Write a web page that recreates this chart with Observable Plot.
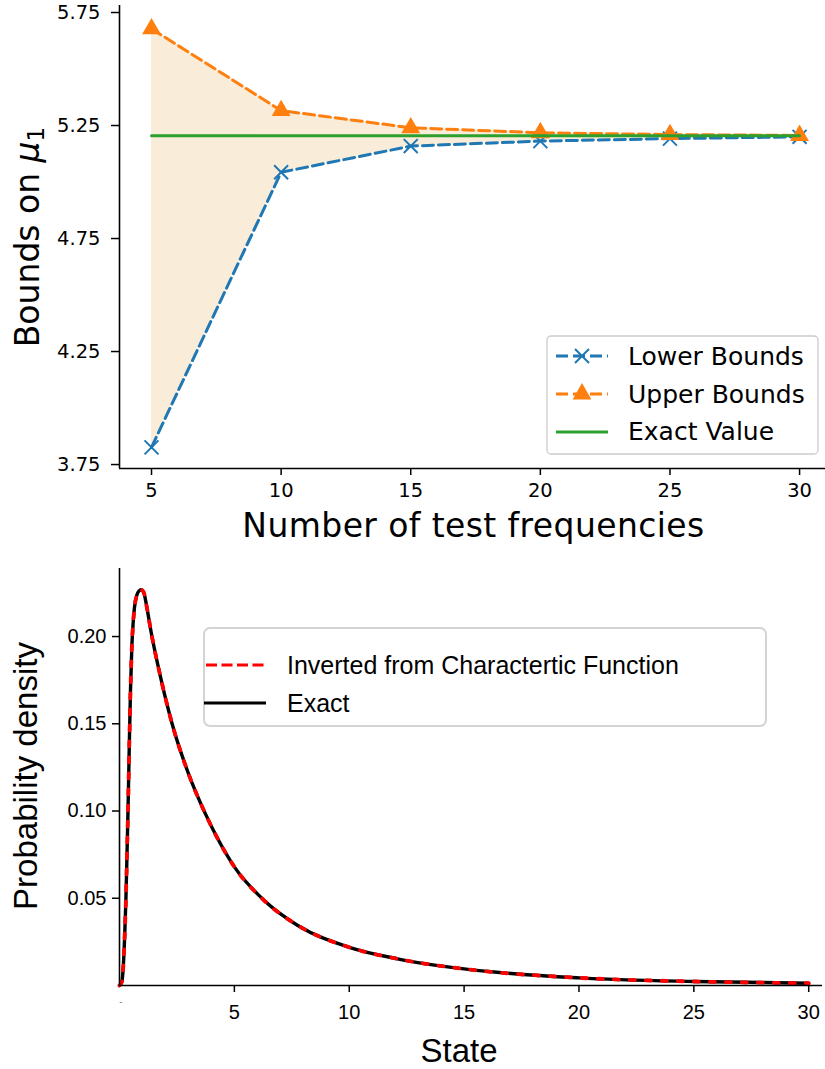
<!DOCTYPE html>
<html>
<head>
<meta charset="utf-8">
<script src="https://cdn.jsdelivr.net/npm/d3@7"></script>
<script src="https://cdn.jsdelivr.net/npm/@observablehq/plot@0.6"></script>
<style>
  html, body { margin: 0; padding: 0; background: #fff; }
  #chart svg { display: block; }
</style>
</head>
<body>
<div id="chart"></div>
<script>
// Bounds on the first moment versus number of test frequencies
const nFreq = [5, 10, 15, 20, 25, 30];
const lowerBounds = [3.826, 5.043, 5.159, 5.181, 5.192, 5.200];
const upperBounds = [5.678, 5.316, 5.240, 5.218, 5.210, 5.206];
const exactValue = 5.205;
const boundTicks = [3.75, 4.25, 4.75, 5.25, 5.75];
const freqTicks = [5, 10, 15, 20, 25, 30];

// Probability density of the state: exact and inverted from the characteristic function
const state = [0, 0.1, 0.17, 0.23, 0.28, 0.33, 0.37, 0.43, 0.48, 0.54, 0.6, 0.65, 0.75, 0.85, 0.94,
  1.05, 1.2, 1.37, 1.8, 2.29, 3.0, 3.7, 4.3, 5.0, 6.3, 7.76, 10, 12.1, 15, 20, 25, 30];
const density = [0, 0.002, 0.012, 0.03, 0.05, 0.077, 0.10, 0.14, 0.17, 0.195, 0.209, 0.2165, 0.2235, 0.2262, 0.2268,
  0.2255, 0.216, 0.203, 0.176, 0.15, 0.1215, 0.0995, 0.0835, 0.068, 0.0487, 0.0344, 0.0219, 0.0153, 0.0095, 0.0044, 0.0023, 0.0013];
const densityTicks = [0.05, 0.10, 0.15, 0.20];
const stateTicks = [5, 10, 15, 20, 25, 30];

const W = 825;
const blue = "#1f77b4", orange = "#ff7f0e", green = "#2ca02c";

const boundsRows = nFreq.map((n, i) => ({n, lower: lowerBounds[i], upper: upperBounds[i], exact: exactValue}));
const xMin1 = 3.765, yMin1 = 3.7325;
const tickFont1 = {fontSize: 19.5, fontFamily: "DejaVu Sans", fill: "black"};

const boundsChart = Plot.plot({
  width: W, height: 545,
  marginLeft: 119, marginRight: 0, marginTop: 5, marginBottom: 77,
  style: {fontFamily: "DejaVu Sans", color: "black", background: "white", overflow: "visible"},
  x: {domain: [xMin1, 31.0]},
  y: {domain: [yMin1, 5.781]},
  marks: [
    Plot.areaY(boundsRows, {x: "n", y1: "lower", y2: "upper", fill: "#f9ecd8"}),
    Plot.line(boundsRows, {x: "n", y: "lower", stroke: blue, strokeWidth: 3, strokeDasharray: "11,5"}),
    Plot.dot(boundsRows, {x: "n", y: "lower", symbol: "times", r: 6.4, stroke: blue, strokeWidth: 2, fill: "none"}),
    Plot.line(boundsRows, {x: "n", y: "upper", stroke: orange, strokeWidth: 3, strokeDasharray: "11,5"}),
    Plot.dot(boundsRows, {x: "n", y: "upper", symbol: "triangle", r: 7, fill: orange, stroke: "none"}),
    Plot.line(boundsRows, {x: "n", y: "exact", stroke: green, strokeWidth: 3}),
    Plot.axisY(boundTicks, {tickFormat: d3.format(".2f"), tickSize: 8, tickPadding: 11, strokeWidth: 1.5, label: null, ...tickFont1}),
    Plot.axisX(freqTicks, {tickSize: 7, tickPadding: 8, strokeWidth: 1.5, label: null, ...tickFont1}),
    Plot.ruleX([xMin1], {strokeWidth: 1.6}),
    Plot.ruleY([yMin1], {strokeWidth: 1.6})
  ]
});

// Axis titles and legend for the bounds panel
{
  const svg = d3.select(boundsChart);
  const yl = svg.append("text")
    .attr("transform", "translate(38.5,237) rotate(-90)")
    .attr("text-anchor", "middle")
    .attr("font-family", "DejaVu Sans")
    .attr("font-size", 33)
    .attr("fill", "black");
  yl.append("tspan").text("Bounds on ");
  yl.append("tspan").attr("font-style", "italic").text("μ");
  yl.append("tspan").attr("font-size", 23).attr("dy", 5).text("1");

  svg.append("text")
    .attr("x", 473.5).attr("y", 537)
    .attr("text-anchor", "middle")
    .attr("font-family", "DejaVu Sans")
    .attr("font-size", 33)
    .attr("letter-spacing", 0.4)
    .attr("fill", "black")
    .text("Number of test frequencies");

  const lg = svg.append("g").attr("font-family", "DejaVu Sans").attr("font-size", 25)
    .attr("fill", "black").attr("text-anchor", "start");
  lg.append("rect").attr("x", 547).attr("y", 336).attr("width", 271).attr("height", 118).attr("rx", 4)
    .attr("fill", "white").attr("fill-opacity", 0.8).attr("stroke", "#cccccc").attr("stroke-width", 1.3);
  const rows = [
    {label: "Lower Bounds", color: blue, dash: "12,5", symbol: d3.symbolTimes, r: 6.4, y: 356, base: 365},
    {label: "Upper Bounds", color: orange, dash: "12,5", symbol: d3.symbolTriangle, r: 7, y: 394, base: 403},
    {label: "Exact Value", color: green, dash: null, symbol: null, r: 0, y: 432, base: 440}
  ];
  for (const row of rows) {
    const ln = lg.append("line").attr("x1", 556).attr("x2", 608).attr("y1", row.y).attr("y2", row.y)
      .attr("stroke", row.color).attr("stroke-width", 3);
    if (row.dash) ln.attr("stroke-dasharray", row.dash);
    if (row.symbol) {
      const p = lg.append("path")
        .attr("transform", `translate(582,${row.y})`)
        .attr("d", d3.symbol().type(row.symbol).size(Math.PI * row.r * row.r)());
      if (row.symbol === d3.symbolTimes) p.attr("fill", "none").attr("stroke", row.color).attr("stroke-width", 2);
      else p.attr("fill", row.color);
    }
    lg.append("text").attr("x", 628).attr("y", row.base).text(row.label);
  }
}

const densityRows = state.map((s, i) => ({s, d: density[i]}));
const tickFont2 = {fontSize: 20, fontFamily: "Liberation Sans", fill: "black"};

const densityChart = Plot.plot({
  width: W, height: 524,
  marginLeft: 119, marginRight: 3, marginTop: 23, marginBottom: 84,
  style: {fontFamily: "Liberation Sans", color: "black", background: "white", overflow: "visible"},
  x: {domain: [0, 30.6]},
  y: {domain: [0, 0.239]},
  marks: [
    Plot.line(densityRows, {x: "s", y: "d", stroke: "black", strokeWidth: 3.4, curve: "monotone-x"}),
    Plot.line(densityRows, {x: "s", y: "d", stroke: "red", strokeWidth: 3.8, strokeDasharray: "5,11", curve: "monotone-x"}),
    Plot.axisY(densityTicks, {tickFormat: d3.format(".2f"), tickSize: 7, tickPadding: 6, strokeWidth: 1.5, label: null, ...tickFont2}),
    Plot.axisX(stateTicks, {tickSize: 7, tickPadding: 12, strokeWidth: 1.5, label: null, ...tickFont2}),
    Plot.ruleX([0], {strokeWidth: 1.6}),
    Plot.ruleY([0], {strokeWidth: 1.6})
  ]
});

// Axis titles and legend for the density panel
{
  const svg = d3.select(densityChart);

  // small dash printed at the origin of the state axis
  svg.append("text")
    .attr("x", 121).attr("y", 460)
    .attr("text-anchor", "middle")
    .attr("font-family", "Liberation Sans")
    .attr("font-size", 10)
    .attr("fill", "#888")
    .text("-");

  svg.append("text")
    .attr("transform", "translate(37,231) rotate(-90)")
    .attr("text-anchor", "middle")
    .attr("font-family", "Liberation Sans")
    .attr("font-size", 33)
    .attr("fill", "black")
    .text("Probability density");

  svg.append("text")
    .attr("x", 459).attr("y", 517)
    .attr("text-anchor", "middle")
    .attr("font-family", "Liberation Sans")
    .attr("font-size", 33)
    .attr("fill", "black")
    .text("State");

  const lg = svg.append("g").attr("font-family", "Liberation Sans").attr("font-size", 25)
    .attr("fill", "black").attr("text-anchor", "start");
  lg.append("rect").attr("x", 204).attr("y", 83).attr("width", 562).attr("height", 98).attr("rx", 6)
    .attr("fill", "white").attr("fill-opacity", 0.8).attr("stroke", "#d4d4d4").attr("stroke-width", 2);
  lg.append("line").attr("x1", 206).attr("x2", 266).attr("y1", 120).attr("y2", 120)
    .attr("stroke", "red").attr("stroke-width", 3).attr("stroke-dasharray", "11,4.5");
  lg.append("text").attr("x", 287).attr("y", 129).text("Inverted from Charactertic Function");
  lg.append("line").attr("x1", 204).attr("x2", 266).attr("y1", 158).attr("y2", 158)
    .attr("stroke", "black").attr("stroke-width", 3);
  lg.append("text").attr("x", 287).attr("y", 167).text("Exact");
}

const root = document.getElementById("chart");
root.append(boundsChart, densityChart);
</script>
</body>
</html>
